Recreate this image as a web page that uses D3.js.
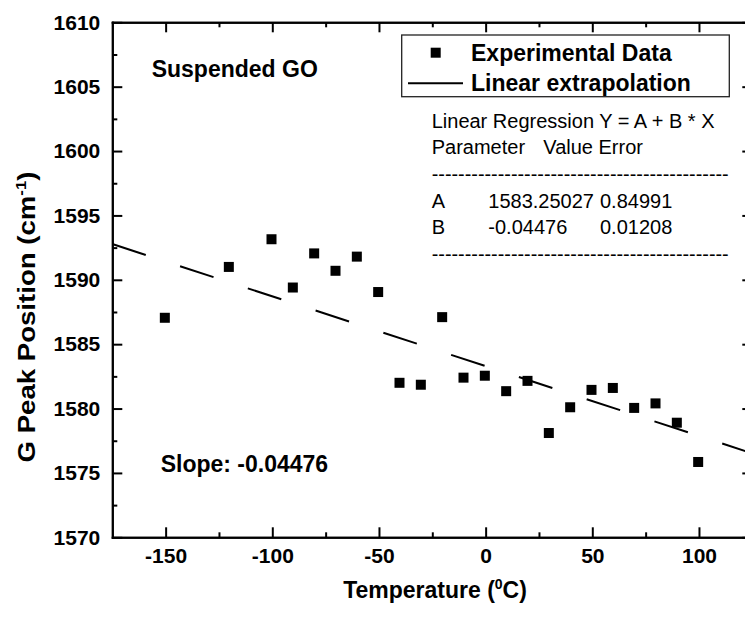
<!DOCTYPE html>
<html>
<head>
<meta charset="utf-8">
<script src="https://cdn.jsdelivr.net/npm/d3@7"></script>
<style>
    body { margin: 0; background: #fff; }
    svg { display: block; }
    text { font-family: Arial, "Liberation Sans", sans-serif; fill: #000; }
    .axis path, .axis line { stroke: #000; stroke-width: 2; }
    .axis text { font-size: 21px; font-weight: bold; }
    .axis-label { font-size: 23px; font-weight: bold; }
    .note { font-size: 23px; font-weight: bold; }
    .reg { font-size: 20px; }
</style>
</head>
<body>
<div id="chart"></div>
<script>

// data
var temperature = [-150, -120, -100, -90, -80, -70, -60, -50, -40, -30, -20, -10, 0, 10, 20, 30, 40, 50, 60, 70, 80, 90, 100];
var peakPosition = [1587.05, 1591.0, 1593.15, 1589.4, 1592.05, 1590.7, 1591.8, 1589.05, 1582.0, 1581.85, 1587.1, 1582.4, 1582.55, 1581.35, 1582.15, 1578.1, 1580.1, 1581.45, 1581.6, 1580.05, 1580.4, 1578.9, 1575.85];

// the drawn extrapolation line (end points)
var lineTemperature = [-175, 125];
var linePosition = [1592.78, 1576.52];

var xDomain = [-175, 125];
var yDomain = [1570, 1610];
var xMajorTicks = [-150, -100, -50, 0, 50, 100];
var xMinorTicks = [-125, -75, -25, 25, 75];
var yMajorTicks = [1570, 1575, 1580, 1585, 1590, 1595, 1600, 1605, 1610];
var yMinorTicks = [1572.5, 1577.5, 1582.5, 1587.5, 1592.5, 1597.5, 1602.5, 1607.5];

var regressionRows = [
    ["Linear Regression Y = A + B * X"],
    ["Parameter", "Value Error"],
    ["---------------------------------------------"],
    ["A", "1583.25027", "0.84991"],
    ["B", "-0.04476", "0.01208"],
    ["---------------------------------------------"]
];

var W = 745, H = 617;
var margin = {top: 22.3, left: 112.3};
var width = 640, height = 515;

var svg = d3.select("#chart").append("svg")
    .attr("width", W)
    .attr("height", H);

var g = svg.append("g")
    .attr("transform", "translate(" + margin.left + "," + margin.top + ")");

var x = d3.scaleLinear().domain(xDomain).range([0, width]);
var y = d3.scaleLinear().domain(yDomain).range([height, 0]);

// plain hyphen for negatives, like the original
var plain = function(d) { return String(d); };

function addFrameAxis(axis, transform, labels) {
    var ax = g.append("g")
        .attr("class", "axis")
        .attr("transform", transform)
        .call(axis);
    if (!labels) ax.selectAll("text").remove();
    return ax;
}

// bottom
addFrameAxis(d3.axisBottom(x).tickValues(xMajorTicks).tickSizeInner(-10).tickSizeOuter(0).tickPadding(11).tickFormat(plain),
    "translate(0," + height + ")", true);
addFrameAxis(d3.axisBottom(x).tickValues(xMinorTicks).tickSizeInner(-5).tickSizeOuter(0),
    "translate(0," + height + ")", false);
// top
addFrameAxis(d3.axisTop(x).tickValues(xMajorTicks).tickSizeInner(-10).tickSizeOuter(0), "translate(0,0)", false);
addFrameAxis(d3.axisTop(x).tickValues(xMinorTicks).tickSizeInner(-5).tickSizeOuter(0), "translate(0,0)", false);
// left
addFrameAxis(d3.axisLeft(y).tickValues(yMajorTicks).tickSizeInner(-10).tickSizeOuter(0).tickPadding(12).tickFormat(plain),
    "translate(0,0)", true);
addFrameAxis(d3.axisLeft(y).tickValues(yMinorTicks).tickSizeInner(-5).tickSizeOuter(0), "translate(0,0)", false);
// right
addFrameAxis(d3.axisRight(y).tickValues(yMajorTicks).tickSizeInner(-10).tickSizeOuter(0), "translate(" + width + ",0)", false);
addFrameAxis(d3.axisRight(y).tickValues(yMinorTicks).tickSizeInner(-5).tickSizeOuter(0), "translate(" + width + ",0)", false);

g.selectAll(".axis path").attr("stroke-linecap", "square");

// dashed extrapolation line
var lineData = lineTemperature.map(function(t, i) { return {t: t, p: linePosition[i]}; });
g.append("path")
    .datum(lineData)
    .attr("fill", "none")
    .attr("stroke", "#000")
    .attr("stroke-width", 2)
    .attr("stroke-dasharray", "35.2,36.1")
    .attr("d", d3.line().x(function(d) { return x(d.t); }).y(function(d) { return y(d.p); }));

// data squares
var sq = 10;
g.selectAll(".dot")
    .data(temperature)
    .enter().append("rect")
    .attr("class", "dot")
    .attr("x", function(d) { return x(d) - sq / 2 - 0.8; })
    .attr("y", function(d, i) { return y(peakPosition[i]) - sq / 2; })
    .attr("width", sq)
    .attr("height", sq)
    .attr("fill", "#000");

// legend
var lg = svg.append("g");
lg.append("rect")
    .attr("x", 401.7).attr("y", 35)
    .attr("width", 327.6).attr("height", 61.7)
    .attr("fill", "#fff")
    .attr("stroke", "#222")
    .attr("stroke-width", 1.3);
lg.append("rect")
    .attr("x", 435.7 - sq / 2).attr("y", 52.7 - sq / 2)
    .attr("width", sq).attr("height", sq)
    .attr("fill", "#000");
lg.append("line")
    .attr("x1", 408).attr("x2", 463)
    .attr("y1", 83.3).attr("y2", 83.3)
    .attr("stroke", "#000").attr("stroke-width", 2);
lg.append("text").attr("class", "note").attr("x", 471).attr("y", 61).text("Experimental Data");
lg.append("text").attr("class", "note").attr("x", 471).attr("y", 90.5).text("Linear extrapolation");

// regression table
var colX = [431.7, 488.3, 600];
regressionRows.forEach(function(row, r) {
    row.forEach(function(cell, c) {
        var t = svg.append("text")
            .attr("class", "reg")
            .attr("x", r === 1 && c === 1 ? 543.3 : colX[c])
            .attr("y", 127.7 + r * 26.6)
            .text(cell);
        if (cell.charAt(0) === "-" && cell.length > 20)
            t.attr("textLength", 297).attr("lengthAdjust", "spacingAndGlyphs");
    });
});

// annotations
svg.append("text").attr("class", "note").attr("x", 151.7).attr("y", 76.7).text("Suspended GO");
svg.append("text").attr("class", "note").attr("x", 160.7).attr("y", 471.7).text("Slope: -0.04476");

// axis titles
var xt = svg.append("text")
    .attr("class", "axis-label")
    .attr("x", 435)
    .attr("y", 598.3)
    .style("text-anchor", "middle");
xt.append("tspan").text("Temperature (");
xt.append("tspan").attr("dy", -9).style("font-size", "14px").text("0");
xt.append("tspan").attr("dy", 9).text("C)");

// y title is drawn a bit stretched along its length in the original
var yt = svg.append("text")
    .attr("class", "axis-label")
    .attr("transform", "translate(35,317) rotate(-90) scale(1.2,1)")
    .style("text-anchor", "middle");
yt.append("tspan").text("G Peak Position (cm");
yt.append("tspan").attr("dy", -9).style("font-size", "14px").text("-1");
yt.append("tspan").attr("dy", 9).text(")");

</script>
</body>
</html>
